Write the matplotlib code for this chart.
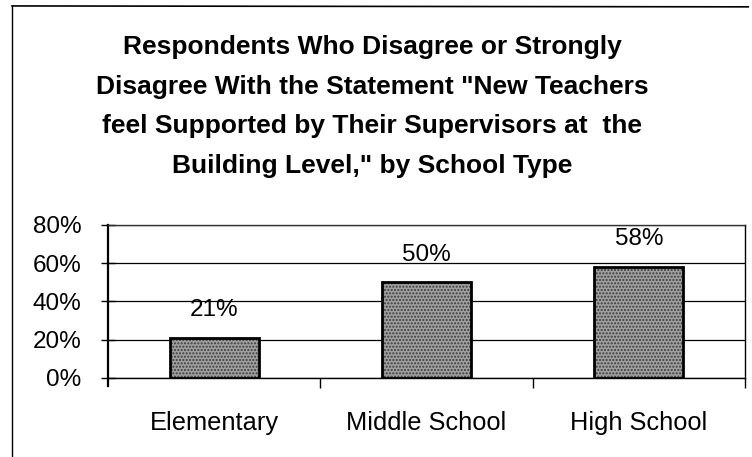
import matplotlib
matplotlib.use("Agg")
import matplotlib.pyplot as plt
from matplotlib.lines import Line2D

plt.rcParams['font.family'] = ['Liberation Sans', 'DejaVu Sans']

# survey results
school_types = ["Elementary", "Middle School", "High School"]
pct_disagree = [21, 50, 58]
y_ticks = [0, 20, 40, 60, 80]

title = ('Respondents Who Disagree or Strongly\n'
         'Disagree With the Statement "New Teachers\n'
         'feel Supported by Their Supervisors at  the\n'
         'Building Level," by School Type')

fig = plt.figure(figsize=(7.52, 4.57), dpi=100)
ax = fig.add_axes([0.1436, 0.1729, 0.8471, 0.3348])

x = range(len(school_types))
# stippled fill, then a heavy outline on top
ax.bar(x, pct_disagree, width=0.42, color='#a0a0a0', hatch='.....',
       edgecolor='#3a3a3a', linewidth=0, zorder=2)
ax.bar(x, pct_disagree, width=0.42, facecolor='none',
       edgecolor='black', linewidth=2.0, zorder=3)

for xi, v in zip(x, pct_disagree):
    ax.annotate(f"{v}%", (xi, v), xytext=(0, 12), textcoords='offset points',
                ha='center', va='bottom', fontsize=17.5)

ax.set_xlim(-0.5, len(school_types) - 0.5)
ax.set_ylim(0, 80)
ax.set_yticks(y_ticks)
ax.set_yticklabels([f"{t}%" for t in y_ticks], fontsize=17.5)
ax.yaxis.grid(True, color='black', linewidth=0.9, zorder=1)
ax.set_axisbelow(True)
ax.tick_params(axis='y', direction='inout', length=10, width=1, pad=14)

ax.set_xticks(list(x))
ax.set_xticklabels(school_types, fontsize=18.3)
ax.tick_params(axis='x', which='major', length=0, pad=24)
ax.set_xticks([0.5, 1.5, 2.5], minor=True)
ax.tick_params(axis='x', which='minor', direction='out', length=7, width=1)

for side in ['left', 'right', 'top', 'bottom']:
    ax.spines[side].set_linewidth(1.0)
    ax.spines[side].set_color('black')
ax.spines['top'].set_color('#333333')
ax.spines['left'].set_linewidth(1.6)
ax.spines['left'].set_bounds(-4, 80)

fig.text(0.495, 0.923, title, ha='center', va='top', fontsize=19,
         fontweight='bold', linespacing=1.82)

# outer frame, left and top edges
fig.add_artist(Line2D([0.016, 0.016], [0.0, 0.987], color='black', linewidth=1.0))
fig.add_artist(Line2D([0.016, 0.995], [0.987, 0.985], color='black', linewidth=1.2))

fig.savefig("out.png", dpi=100)
